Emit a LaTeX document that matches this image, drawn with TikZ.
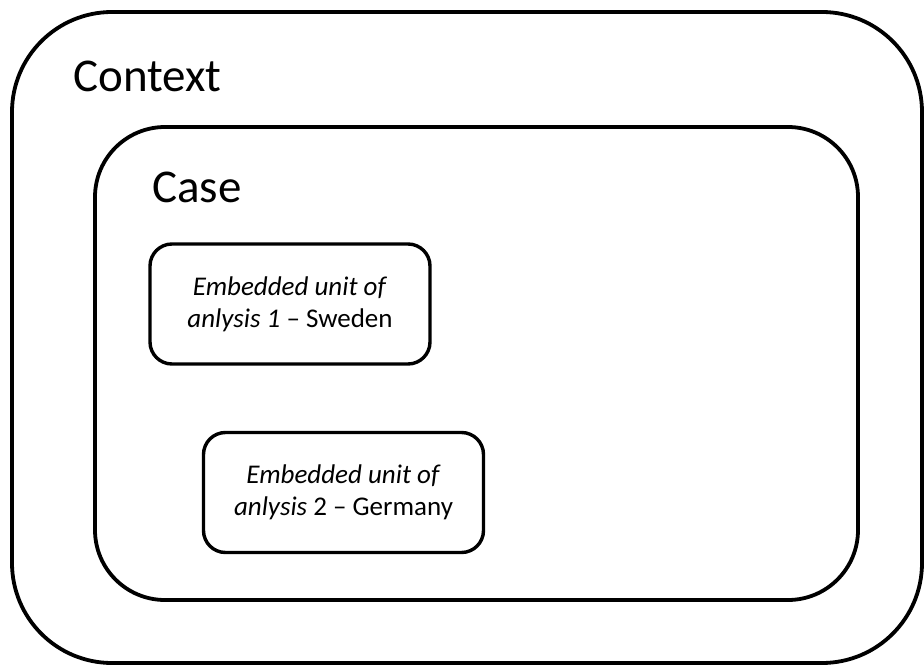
\documentclass[tikz,border=0pt]{standalone}
\usepackage{fontspec}
\setmainfont{Carlito}
\begin{document}
\begin{tikzpicture}[x=1pt,y=-1pt,
  frame/.style={draw=black,line width=3.8pt,rounded corners=#1},
  unitbox/.style={draw=black,line width=3.4pt,rounded corners=22pt,minimum width=280pt,minimum height=120pt,align=center,font=\fontsize{27}{32}\selectfont,inner sep=0pt},
  title/.style={anchor=base west,font=\fontsize{47}{52}\selectfont,inner sep=0pt}]
\useasboundingbox (0,0) rectangle (924,666);
% outer context frame and inner case frame
\draw[frame=100pt] (12,12) rectangle (922,663);
\draw[frame=70pt] (95,127) rectangle (858,600);
\node[title] (context) at (73,92) {Context};
\node[title] (case) at (152,202) {Case};
% embedded units of analysis
\node[unitbox] (sweden) at (290,304) {\textit{Embedded unit of}\\\textit{anlysis 1} -- Sweden};
\node[unitbox] (germany) at (343.5,492.5) {\textit{Embedded unit of}\\\textit{anlysis} 2 -- Germany};
\end{tikzpicture}
\end{document}
